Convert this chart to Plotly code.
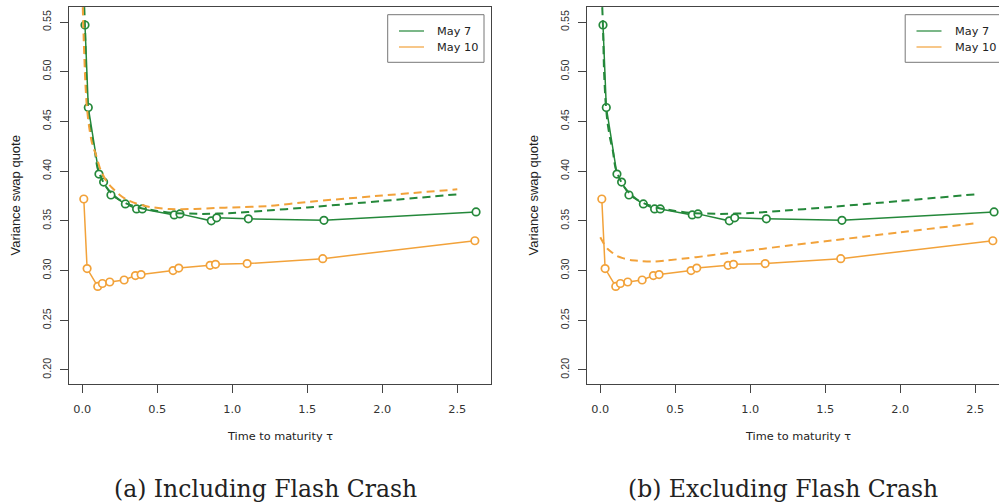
import plotly.graph_objects as go

# ---- data -------------------------------------------------------------
# observed variance swap quotes by time to maturity (years)
tau_may7 = [0.018, 0.040, 0.111, 0.142, 0.191, 0.287, 0.362, 0.400, 0.613,
            0.651, 0.860, 0.896, 1.107, 1.611, 2.625]
quote_may7 = [0.547, 0.464, 0.397, 0.389, 0.376, 0.367, 0.362, 0.362, 0.356,
              0.357, 0.350, 0.353, 0.352, 0.3505, 0.359]

tau_may10 = [0.010, 0.032, 0.103, 0.134, 0.183, 0.279, 0.354, 0.392, 0.605,
             0.643, 0.852, 0.888, 1.099, 1.603, 2.617]
quote_may10 = [0.372, 0.302, 0.284, 0.287, 0.2885, 0.2905, 0.295, 0.296, 0.300,
               0.3025, 0.3053, 0.3063, 0.307, 0.312, 0.330]

# model-implied term structures, panel (a): including the flash crash
fit_a_tau_may7 = [0.013, 0.018, 0.025, 0.035, 0.047, 0.065, 0.083, 0.10, 0.13,
                  0.16, 0.20, 0.25, 0.30, 0.40, 0.50, 0.60, 0.80, 1.00, 1.20,
                  1.50, 2.00, 2.50]
fit_a_may7 = [0.565, 0.545, 0.500, 0.470, 0.450, 0.433, 0.421, 0.404, 0.392,
              0.384, 0.377, 0.371, 0.367, 0.3625, 0.360, 0.358, 0.357, 0.3578,
              0.360, 0.3635, 0.370, 0.3767]
fit_a_tau_may10 = [0.003, 0.010, 0.020, 0.030, 0.045, 0.065, 0.090, 0.12, 0.16,
                   0.20, 0.25, 0.30, 0.36, 0.45, 0.58, 0.75, 0.90, 1.00, 1.25,
                   1.50, 2.00, 2.50]
fit_a_may10 = [0.565, 0.530, 0.490, 0.465, 0.445, 0.428, 0.417, 0.402, 0.390,
               0.383, 0.376, 0.371, 0.3675, 0.364, 0.3618, 0.362, 0.363, 0.3635,
               0.365, 0.369, 0.3755, 0.3817]

# panel (b): excluding the flash crash
fit_b_tau_may7 = fit_a_tau_may7
fit_b_may7 = fit_a_may7
fit_b_tau_may10 = [0.0, 0.020, 0.045, 0.080, 0.111, 0.15, 0.20, 0.28, 0.356,
                   0.45, 0.578, 0.70, 0.80, 1.022, 1.245, 1.50, 2.00, 2.50]
fit_b_may10 = [0.3335, 0.328, 0.3224, 0.318, 0.3146, 0.3125, 0.3106, 0.3095,
               0.309, 0.3103, 0.3124, 0.3146, 0.3167, 0.3207, 0.325, 0.3295,
               0.3385, 0.3475]

x_ticks = [0, 0.5, 1.0, 1.5, 2.0, 2.5]
y_ticks = [0.20, 0.25, 0.30, 0.35, 0.40, 0.45, 0.50, 0.55]
series_names = ["May 7", "May 10"]
captions = ["(a) Including Flash Crash", "(b) Excluding Flash Crash"]
x_title = "Time to maturity \u03c4"
y_title = "Variance swap quote"

# ---- styling ----------------------------------------------------------
W, H = 999, 504
GREEN = "#24883A"
ORANGE = "#F2A23A"
AXIS = "#444444"
TXT = "#333333"


def fx(p):
    return p / W


def fy(p):
    return 1 - p / H


fig = go.Figure()

panels = [
    dict(xa="x", ya="y", fits=[(fit_a_tau_may7, fit_a_may7, GREEN),
                               (fit_a_tau_may10, fit_a_may10, ORANGE)]),
    dict(xa="x2", ya="y2", fits=[(fit_b_tau_may7, fit_b_may7, GREEN),
                                 (fit_b_tau_may10, fit_b_may10, ORANGE)]),
]

for p in panels:
    for tx, ty, col in [(tau_may7, quote_may7, GREEN), (tau_may10, quote_may10, ORANGE)]:
        fig.add_trace(go.Scatter(
            x=tx, y=ty, mode="lines+markers", xaxis=p["xa"], yaxis=p["ya"],
            line=dict(color=col, width=1.5),
            marker=dict(symbol="circle", size=7.5, color="white",
                        line=dict(color=col, width=1.7)),
            showlegend=False, hoverinfo="skip"))
    for tx, ty, col in p["fits"]:
        fig.add_trace(go.Scatter(
            x=tx, y=ty, mode="lines", xaxis=p["xa"], yaxis=p["ya"],
            line=dict(color=col, width=2, dash="8px,5px", shape="spline", smoothing=0.6),
            showlegend=False, hoverinfo="skip"))

y_dom = [fy(384), fy(7)]
y_rng = [0.1859, 0.5651]
axis_common = dict(showgrid=False, zeroline=False, showline=True, linecolor=AXIS,
                   linewidth=1, ticks="outside", ticklen=8, tickcolor=AXIS,
                   tickwidth=1)

fig.update_layout(
    width=W, height=H, margin=dict(l=0, r=0, t=0, b=0),
    paper_bgcolor="white", plot_bgcolor="white", showlegend=False,
    xaxis=dict(domain=[fx(69), fx(491)], range=[-0.0887, 2.7247], tickvals=x_ticks,
               ticktext=["0.0", "0.5", "1.0", "1.5", "2.0", "2.5"], mirror=True,
               tickfont=dict(family="DejaVu Sans", size=11.3, color=TXT),
               ticklabelstandoff=6, anchor="y", **axis_common),
    yaxis=dict(domain=y_dom, range=y_rng, tickvals=y_ticks,
               ticktext=[f"{v:.2f}" for v in y_ticks], tickangle=-90, mirror=True,
               tickfont=dict(family="Liberation Sans", size=10.8, color=TXT),
               ticklabelstandoff=5, anchor="x", **axis_common),
    xaxis2=dict(domain=[fx(587), 1.0], range=[-0.0887, 2.658], tickvals=x_ticks,
                ticktext=["0.0", "0.5", "1.0", "1.5", "2.0", "2.5"], mirror=True,
                tickfont=dict(family="DejaVu Sans", size=11.3, color=TXT),
                ticklabelstandoff=6, anchor="y2", **axis_common),
    yaxis2=dict(domain=y_dom, range=y_rng, tickvals=y_ticks,
                ticktext=[f"{v:.2f}" for v in y_ticks], tickangle=-90, mirror=False,
                tickfont=dict(family="Liberation Sans", size=10.8, color=TXT),
                ticklabelstandoff=5, anchor="x2", **axis_common),
)

shapes = []
annotations = []
for off, (cx_title, cy_title_x) in zip([0.0, 517.5], [(280, 15), (798, 533)]):
    # legend box with line keys
    shapes.append(dict(type="rect", xref="paper", yref="paper",
                       x0=fx(387.7 + off), x1=fx(484 + off), y0=fy(62.3), y1=fy(14.7),
                       line=dict(color="#777777", width=1), fillcolor="white"))
    for name, col, yy in zip(series_names, [GREEN, ORANGE], [31, 47]):
        shapes.append(dict(type="line", xref="paper", yref="paper",
                           x0=fx(399 + off), x1=fx(424 + off), y0=fy(yy), y1=fy(yy),
                           line=dict(color=col, width=1.2)))
        annotations.append(dict(text=name, xref="paper", yref="paper",
                                x=fx(435 + off), y=fy(yy), xanchor="left", yanchor="middle",
                                showarrow=False,
                                font=dict(family="DejaVu Sans", size=11.3, color="#222222")))
    # axis titles
    annotations.append(dict(text=x_title, xref="paper", yref="paper",
                            x=fx(cx_title), y=fy(436), xanchor="center", yanchor="middle",
                            showarrow=False,
                            font=dict(family="DejaVu Sans", size=11.3, color="#222222")))
    annotations.append(dict(text=y_title, xref="paper", yref="paper", textangle=-90,
                            x=fx(cy_title_x), y=fy(195.5), xanchor="center", yanchor="middle",
                            showarrow=False,
                            font=dict(family="Liberation Sans", size=13, color="#222222")))

for cap, cx in zip(captions, [265, 782.5]):
    annotations.append(dict(text=cap, xref="paper", yref="paper",
                            x=fx(cx), y=fy(489), xanchor="center", yanchor="middle",
                            showarrow=False,
                            font=dict(family="DejaVu Serif", size=23.5, color="#222222")))

fig.update_layout(shapes=shapes, annotations=annotations)
fig.write_html("out.html")
